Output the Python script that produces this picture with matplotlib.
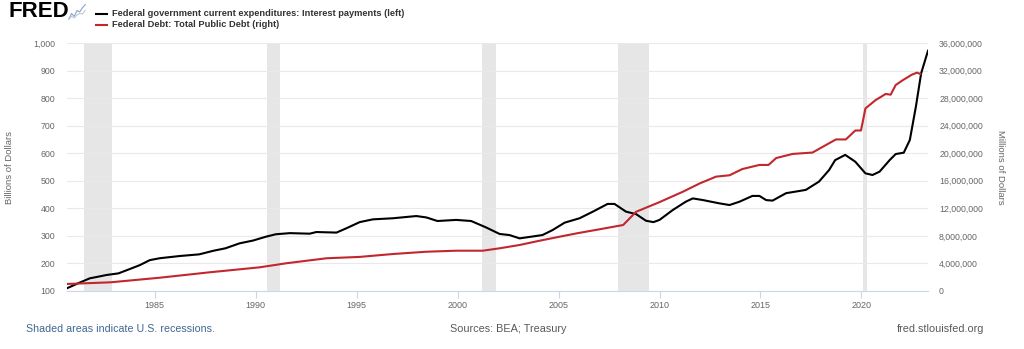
import numpy as np
import matplotlib.pyplot as plt
from matplotlib.ticker import FuncFormatter

plt.rcParams['font.family'] = ['Liberation Sans', 'DejaVu Sans']

# Interest payments (billions, left axis), decimal years
int_years = [1980.65, 1981.2, 1981.78, 1982.2, 1982.6, 1983.2, 1983.7, 1984.26, 1984.75,
             1985.25, 1986.24, 1987.2, 1987.9, 1988.5, 1989.2, 1989.86, 1990.5, 1991.0,
             1991.7, 1992.67, 1993.0, 1994.0, 1994.5, 1995.15, 1995.8, 1996.8, 1997.95,
             1998.45, 1999.0, 1999.93, 2000.67, 2001.4, 2002.08, 2002.57, 2003.07, 2004.2,
             2004.7, 2005.3, 2006.04, 2006.7, 2007.43, 2007.77, 2008.34, 2008.84, 2009.33,
             2009.7, 2010.0, 2010.66, 2011.3, 2011.65, 2012.15, 2012.97, 2013.47, 2013.96,
             2014.6, 2014.95, 2015.28, 2015.6, 2016.27, 2016.93, 2017.25, 2017.9, 2018.4,
             2018.7, 2019.2, 2019.7, 2020.2, 2020.55, 2020.9, 2021.4, 2021.7, 2022.1,
             2022.4, 2022.7, 2022.96, 2023.3]
int_vals = [110, 128, 146, 152, 158, 164, 178, 194, 212,
            219, 227, 233, 246, 255, 273, 283, 297, 306,
            310, 308, 314, 312, 328, 350, 360, 364, 372,
            367, 354, 358, 354, 331, 307, 303, 291, 303,
            321, 348, 364, 388, 416, 416, 388, 379, 355,
            350, 358, 394, 424, 436, 430, 418, 412, 424,
            445, 445, 430, 428, 455, 463, 467, 497, 539,
            575, 594, 569, 527, 521, 533, 575, 597, 602,
            648, 769, 890, 972]

# Total public debt (millions, right axis)
debt_years = [1980.65, 1982.8, 1985.25, 1987.7, 1990.2, 1991.5, 1993.5, 1995.15, 1996.8,
              1998.45, 1999.93, 2001.25, 2002.08, 2003.07, 2004.06, 2005.05, 2005.9, 2007.03,
              2008.2, 2008.84, 2010.0, 2011.15, 2011.98, 2012.8, 2013.47, 2014.1, 2014.95,
              2015.4, 2015.78, 2016.6, 2017.1, 2017.58, 2018.25, 2018.74, 2019.23, 2019.7,
              2019.98, 2020.2, 2020.7, 2021.2, 2021.45, 2021.7, 2022.05, 2022.5, 2022.76,
              2022.92]
debt_vals = [1.02e6, 1.26e6, 1.93e6, 2.71e6, 3.44e6, 4.02e6, 4.75e6, 4.95e6, 5.37e6,
             5.7e6, 5.85e6, 5.85e6, 6.2e6, 6.68e6, 7.3e6, 7.88e6, 8.37e6, 8.96e6,
             9.58e6, 11.5e6, 12.9e6, 14.4e6, 15.6e6, 16.6e6, 16.8e6, 17.7e6, 18.3e6,
             18.3e6, 19.3e6, 19.9e6, 20.0e6, 20.1e6, 21.2e6, 22.0e6, 22.0e6, 23.3e6,
             23.3e6, 26.5e6, 27.7e6, 28.6e6, 28.5e6, 29.9e6, 30.6e6, 31.4e6, 31.7e6,
             31.5e6]

recessions = [(1981.5, 1982.87), (1990.55, 1991.2), (2001.2, 2001.88), (2007.92, 2009.5),
              (2020.1, 2020.3)]

fig = plt.figure(figsize=(10.24, 3.49), dpi=100)
ax = fig.add_axes([67/1024, 1 - 291/349, (928 - 67)/1024, (291 - 43)/349])
ax2 = ax.twinx()

for a, b in recessions:
    ax.axvspan(a, b, color='#e6e6e6', lw=0, zorder=0)

ax.plot(int_years, int_vals, color='#000000', lw=1.5, zorder=3)
ax2.plot(debt_years, debt_vals, color='#c1272d', lw=1.5, zorder=3)

ax.set_xlim(1980.65, 2023.3)
ax.set_ylim(100, 1000)
ax2.set_ylim(0, 36e6)
ax.set_yticks(np.arange(100, 1001, 100))
ax2.set_yticks(np.arange(0, 36e6 + 1, 4e6))
ax.yaxis.set_major_formatter(FuncFormatter(lambda v, p: f'{int(v):,}'))
ax2.yaxis.set_major_formatter(FuncFormatter(lambda v, p: f'{int(v):,}'))
ax.set_xticks(np.arange(1985, 2021, 5))

ax.grid(axis='y', color='#e9e9e9', lw=0.8)
ax.set_axisbelow(True)
for a in (ax, ax2):
    for s in a.spines.values():
        s.set_visible(False)
ax.spines['bottom'].set_visible(True)
ax.spines['bottom'].set_color('#ccd6eb')
ax.tick_params(axis='x', colors='#ccd6eb', length=5, width=0.8, labelcolor='#666666', labelsize=6.5, pad=2)
ax.tick_params(axis='y', length=0, labelcolor='#666666', labelsize=6.3, pad=8.5)
ax2.tick_params(axis='y', length=0, labelcolor='#666666', labelsize=6.3, pad=8)

ax.set_ylabel('Billions of Dollars', color='#666666', fontsize=6.8)
ax2.set_ylabel('Millions of Dollars', color='#666666', fontsize=6.8, rotation=270, va='center')
ax.yaxis.set_label_coords((14 - 67) / 861, 0.5)
ax2.yaxis.set_label_coords((1000 - 67) / 861, 0.5)

# header
fig.text(8/1024, 1 - 11.5/349, 'FRED', fontsize=16, fontweight='bold', color='#000000', va='center')
icon = fig.add_axes([68/1024, 1 - 20/349, 18/1024, 16/349])
icon.plot([0, 1, 2, 3, 4, 5, 6], [0, 2, 1, 3, 2.5, 4, 5], color='#8aa4c8', lw=0.8)
icon.plot([0, 1, 2, 3, 4, 5, 6], [0, 1, 0.5, 1.5, 2, 1.8, 3], color='#bfc9d6', lw=0.8)
icon.axis('off')

fig.add_artist(plt.Line2D([96/1024, 107/1024], [1 - 14/349] * 2, color='#000000', lw=1.5))
fig.add_artist(plt.Line2D([96/1024, 107/1024], [1 - 24.5/349] * 2, color='#c1272d', lw=1.5))
fig.text(112/1024, 1 - 14/349, 'Federal government current expenditures: Interest payments (left)',
         fontsize=6.7, fontweight='bold', color='#333333', va='center')
fig.text(112/1024, 1 - 24.5/349, 'Federal Debt: Total Public Debt (right)',
         fontsize=6.7, fontweight='bold', color='#333333', va='center')

# footer
fig.text(26/1024, 1 - 329/349, 'Shaded areas indicate U.S. recessions.', fontsize=7.7,
         color='#3e6790', va='center')
fig.text(508/1024, 1 - 329/349, 'Sources: BEA; Treasury', fontsize=7.8, color='#595959',
         va='center', ha='center')
fig.text(984/1024, 1 - 329/349, 'fred.stlouisfed.org', fontsize=7.8, color='#595959',
         va='center', ha='right')

fig.savefig('out.png', dpi=100)
